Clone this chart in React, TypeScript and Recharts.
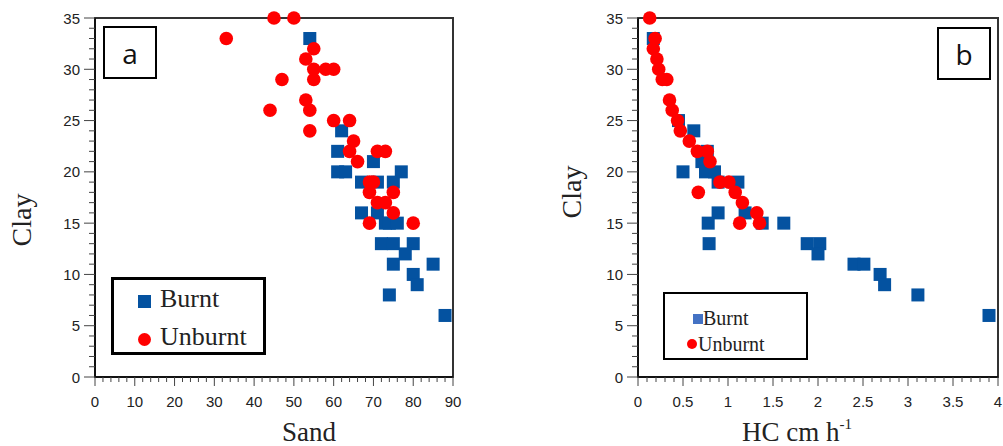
import React from "react";
import { Legend, ReferenceArea, Scatter, ScatterChart, XAxis, YAxis } from "recharts";

// panel a: sand vs clay
const burntSand = [54, 62, 61, 61, 63, 77, 70, 67, 71, 75, 67, 71, 73, 74, 76, 72, 75, 80, 78, 75, 85, 80, 81, 74, 88];
const burntClayA = [33, 24, 22, 20, 20, 20, 21, 19, 19, 19, 16, 16, 15, 15, 15, 13, 13, 13, 12, 11, 11, 10, 9, 8, 6];
const unburntSand = [33, 45, 50, 55, 53, 55, 58, 60, 55, 47, 53, 54, 44, 54, 60, 64, 65, 64, 66, 71, 73, 69, 70, 69, 75, 71, 73, 75, 69, 80];
const unburntClayA = [33, 35, 35, 32, 31, 30, 30, 30, 29, 29, 27, 26, 26, 24, 25, 25, 23, 22, 21, 22, 22, 19, 19, 18, 18, 17, 17, 16, 15, 15];

// panel b: hydraulic conductivity vs clay
const burntHc = [0.17, 0.45, 0.62, 0.77, 0.71, 0.5, 0.75, 0.85, 0.89, 1.11, 0.89, 1.19, 0.78, 1.38, 1.62, 0.79, 1.88, 2.02, 2.0, 2.4, 2.51, 2.69, 2.74, 3.11, 3.9];
const burntClayB = [33, 25, 24, 22, 21, 20, 20, 20, 19, 19, 16, 16, 15, 15, 15, 13, 13, 13, 12, 11, 11, 10, 9, 8, 6];
const unburntHc = [0.13, 0.19, 0.17, 0.21, 0.23, 0.27, 0.32, 0.35, 0.38, 0.44, 0.47, 0.57, 0.66, 0.77, 0.8, 0.91, 1.01, 0.67, 1.08, 1.16, 1.32, 1.13, 1.35];
const unburntClayB = [35, 33, 32, 31, 30, 29, 29, 27, 26, 25, 24, 23, 22, 22, 21, 19, 19, 18, 18, 17, 16, 15, 15];

const clayTicks = Array.from({ length: 36 }, (_, i) => i);
const sandTicks = Array.from({ length: 46 }, (_, i) => i * 2);
const hcTicks = Array.from({ length: 41 }, (_, i) => i / 10);

const BLUE = "#0452a0";
const RED = "#ff0000";
const SANS = "'Liberation Sans', Arial, sans-serif";
const SERIF = "'Liberation Serif', 'Times New Roman', serif";

const zip = (xs: number[], ys: number[]) => xs.map((x, i) => ({ x, y: ys[i] }));

const square = (p: any) => <rect x={p.cx - 6.5} y={p.cy - 6.5} width={13} height={13} fill={BLUE} />;
const dot = (p: any) => <circle cx={p.cx} cy={p.cy} r={6.8} fill={RED} />;

function isMajor(v: number, step: number) {
  return Math.abs(v / step - Math.round(v / step)) < 1e-6;
}

function XTick({ x, y, payload, step }: any) {
  const major = isMajor(payload.value, step);
  return (
    <g>
      <line x1={x} x2={x} y1={y} y2={y + (major ? 9 : 5)} stroke="#444" strokeWidth={1} />
      {major && (
        <text x={x} y={y + 30} textAnchor="middle" fontFamily={SANS} fontSize={15} fill="#222">
          {String(Math.round(payload.value * 10) / 10)}
        </text>
      )}
    </g>
  );
}

function YTick({ x, y, payload }: any) {
  const major = isMajor(payload.value, 5);
  return (
    <g>
      <line x1={x - (major ? 11 : 6)} x2={x} y1={y} y2={y} stroke="#444" strokeWidth={1} />
      {major && (
        <text x={x - 15} y={y + 5.5} textAnchor="end" fontFamily={SANS} fontSize={15} fill="#222">
          {payload.value}
        </text>
      )}
    </g>
  );
}

function ClayLabel({ cx, cy }: { cx: number; cy: number }) {
  return (
    <text
      x={cx}
      y={cy}
      transform={`rotate(-90 ${cx} ${cy})`}
      textAnchor="middle"
      fontFamily={SERIF}
      fontSize={28}
      fill="#222"
    >
      Clay
    </text>
  );
}

function LegendA() {
  return (
    <div style={{ width: 149, height: 72, border: "3px solid #000", position: "relative", fontFamily: SERIF, fontSize: 26, color: "#222" }}>
      <div style={{ position: "absolute", left: 24, top: 15, width: 13, height: 13, background: BLUE }} />
      <div style={{ position: "absolute", left: 46, top: 4, lineHeight: "30px" }}>Burnt</div>
      <div style={{ position: "absolute", left: 24, top: 53, width: 13, height: 13, borderRadius: "50%", background: RED }} />
      <div style={{ position: "absolute", left: 46, top: 42, lineHeight: "30px" }}>Unburnt</div>
    </div>
  );
}

function LegendB() {
  return (
    <div style={{ width: 141, height: 64, border: "2px solid #000", position: "relative", fontFamily: SERIF, fontSize: 20, color: "#222" }}>
      <div style={{ position: "absolute", left: 28, top: 20, width: 10, height: 10, background: "#4472c4" }} />
      <div style={{ position: "absolute", left: 38, top: 12, lineHeight: "24px" }}>Burnt</div>
      <div style={{ position: "absolute", left: 22, top: 45, width: 10, height: 10, borderRadius: "50%", background: RED }} />
      <div style={{ position: "absolute", left: 33, top: 38, lineHeight: "24px" }}>Unburnt</div>
    </div>
  );
}

function PanelTag({ left, top, text }: { left: number; top: number; text: string }) {
  return (
    <div
      style={{
        position: "absolute",
        left,
        top,
        width: 50,
        height: 49,
        border: "2px solid #000",
        background: "#fff",
        display: "flex",
        alignItems: "center",
        justifyContent: "center",
        fontFamily: "'Open Sans', 'Liberation Sans', sans-serif",
        fontSize: 28,
        color: "#111",
      }}
    >
      {text}
    </div>
  );
}

export default function App() {
  return (
    <div style={{ position: "absolute", left: 0, top: 0, width: 1003, height: 446, background: "#fff", overflow: "hidden" }}>
      <div style={{ position: "absolute", left: 0, top: 0 }}>
        <ScatterChart width={470} height={446} margin={{ top: 18, right: 17, left: 0, bottom: 0 }}>
          <XAxis
            type="number"
            dataKey="x"
            domain={[0, 90]}
            ticks={sandTicks}
            interval={0}
            height={69}
            tickSize={0}
            tickMargin={0}
            tickLine={false}
            axisLine={{ stroke: "#111", strokeWidth: 2 }}
            tick={(p: any) => <XTick {...p} step={10} />}
            label={() => (
              <text x={309} y={441} textAnchor="middle" fontFamily={SERIF} fontSize={27} fill="#222">
                Sand
              </text>
            )}
          />
          <YAxis
            type="number"
            dataKey="y"
            domain={[0, 35]}
            ticks={clayTicks}
            interval={0}
            width={95}
            tickSize={0}
            tickMargin={0}
            tickLine={false}
            axisLine={{ stroke: "#111", strokeWidth: 2 }}
            tick={(p: any) => <YTick {...p} />}
            label={() => <ClayLabel cx={31} cy={220} />}
          />
          <ReferenceArea x1={0} x2={90} y1={0} y2={35} fill="none" stroke="#333" strokeWidth={2} />
          <Scatter name="Burnt" data={zip(burntSand, burntClayA)} shape={square} isAnimationActive={false} />
          <Scatter name="Unburnt" data={zip(unburntSand, unburntClayA)} shape={dot} isAnimationActive={false} />
          <Legend
            layout="horizontal"
            verticalAlign="middle"
            align="center"
            content={() => <LegendA />}
            wrapperStyle={{ left: 111, top: 277, width: 155, height: 78 }}
          />
        </ScatterChart>
      </div>
      <PanelTag left={103} top={26} text="a" />

      <div style={{ position: "absolute", left: 545, top: 0 }}>
        <ScatterChart width={458} height={446} margin={{ top: 18, right: 5, left: 0, bottom: 0 }}>
          <XAxis
            type="number"
            dataKey="x"
            domain={[0, 4]}
            ticks={hcTicks}
            interval={0}
            height={69}
            tickSize={0}
            tickMargin={0}
            tickLine={false}
            axisLine={{ stroke: "#111", strokeWidth: 2 }}
            tick={(p: any) => <XTick {...p} step={0.5} />}
            label={() => (
              <text x={252} y={441} textAnchor="middle" fontFamily={SERIF} fontSize={27} fill="#222">
                HC cm h
                <tspan fontSize={15} dy={-12}>-1</tspan>
              </text>
            )}
          />
          <YAxis
            type="number"
            dataKey="y"
            domain={[0, 35]}
            ticks={clayTicks}
            interval={0}
            width={93}
            tickSize={0}
            tickMargin={0}
            tickLine={false}
            axisLine={{ stroke: "#111", strokeWidth: 2 }}
            tick={(p: any) => <YTick {...p} />}
            label={() => <ClayLabel cx={36} cy={192} />}
          />
          <ReferenceArea x1={0} x2={4} y1={0} y2={35} fill="none" stroke="#333" strokeWidth={2} />
          <Scatter name="Burnt" data={zip(burntHc, burntClayB)} shape={square} isAnimationActive={false} />
          <Scatter name="Unburnt" data={zip(unburntHc, unburntClayB)} shape={dot} isAnimationActive={false} />
          <Legend
            layout="horizontal"
            verticalAlign="middle"
            align="center"
            content={() => <LegendB />}
            wrapperStyle={{ left: 118, top: 292, width: 145, height: 68 }}
          />
        </ScatterChart>
      </div>
      <PanelTag left={937} top={27} text="b" />
    </div>
  );
}
